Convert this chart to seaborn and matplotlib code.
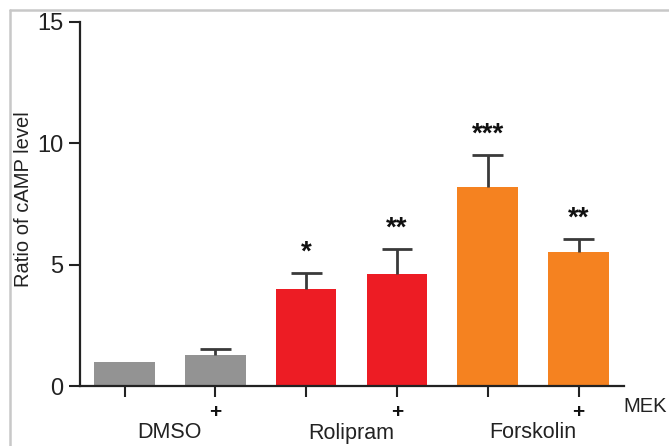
import matplotlib
matplotlib.use("Agg")
import matplotlib.pyplot as plt
from matplotlib.lines import Line2D
from matplotlib.transforms import blended_transform_factory
import seaborn as sns
import pandas as pd

# cAMP ratio per condition (mean and upper SEM)
conditions = ["DMSO", "DMSO + MEK", "Rolipram", "Rolipram + MEK", "Forskolin", "Forskolin + MEK"]
treatments = ["DMSO", "DMSO", "Rolipram", "Rolipram", "Forskolin", "Forskolin"]
mek_marks = ["", "+", "", "+", "", "+"]
camp_ratio = [1.0, 1.28, 4.01, 4.62, 8.19, 5.52]
camp_sem = [0.0, 0.24, 0.64, 1.03, 1.34, 0.55]
significance = ["", "", "*", "**", "***", "**"]
group_labels = ["DMSO", "Rolipram", "Forskolin"]
y_ticks = [0, 5, 10, 15]

palette = {"DMSO": "#939393", "Rolipram": "#ED1C24", "Forskolin": "#F58220"}

sns.set_style("ticks")
plt.rcParams["font.family"] = ["Liberation Sans", "DejaVu Sans"]

df = pd.DataFrame({"condition": conditions, "treatment": treatments, "ratio": camp_ratio})

fig = plt.figure(figsize=(6.69, 4.46), dpi=100)
ax = fig.add_axes([80 / 669, 1 - 386.2 / 446, 544 / 669, (386.2 - 21.7) / 446])

sns.barplot(data=df, x="condition", y="ratio", hue="treatment", palette=palette,
            dodge=False, width=0.667, errorbar=None, legend=False, ax=ax,
            linewidth=0, saturation=1)

# upper error bars (stem + cap) and significance stars on the drawn bars
bars = sorted(ax.patches, key=lambda p: p.get_x())
xs = [b.get_x() + b.get_width() / 2 for b in bars]
cap_half = 0.17
for x, h, e, s in zip(xs, camp_ratio, camp_sem, significance):
    if e > 0:
        ax.vlines(x, h, h + e, color="#3a3a3a", lw=2, zorder=3)
        ax.hlines(h + e, x - cap_half, x + cap_half, color="#3a3a3a", lw=2, zorder=3)
    if s:
        ax.text(x, h + e + 0.3, s, ha="center", va="bottom", fontsize=20,
                fontweight="bold", color="#111111")

ax.set_xlim(-0.49, 5.5)
ax.set_ylim(0, 15)
ax.set_yticks(y_ticks)
ax.set_xticks(range(len(conditions)))
ax.set_xticklabels([])
ax.set_xlabel("")
ax.set_ylabel("Ratio of cAMP level", fontsize=14.5, color="#222222")
ax.yaxis.set_label_coords(-0.086, 0.512)
ax.tick_params(axis="y", labelsize=17, length=8, width=1.5, color="#222222",
               labelcolor="#222222", pad=4)
ax.tick_params(axis="x", length=8, width=1.5, color="#222222")
sns.despine(ax=ax)
for side in ("left", "bottom"):
    ax.spines[side].set_linewidth(1.6)
    ax.spines[side].set_color("#222222")

# treatment annotations below the axis
tr = blended_transform_factory(ax.transData, fig.transFigure)
for x, m in zip(xs, mek_marks):
    if m:
        ax.text(x, 1 - 412 / 446, m, transform=tr, ha="center", va="center",
                fontsize=15, fontweight="bold", color="#111111")
for i, g in enumerate(group_labels):
    gx = (xs[2 * i] + xs[2 * i + 1]) / 2
    ax.text(gx, 1 - 433 / 446, g, transform=tr, ha="center", va="center",
            fontsize=15.5, color="#222222")
fig.text(623 / 669, 1 - 407 / 446, "MEK", ha="left", va="center",
         fontsize=14.5, color="#222222")

# light panel border on the left and top edges
fig.add_artist(Line2D([10 / 669, 10 / 669], [0, 1 - 9.5 / 446],
                      transform=fig.transFigure, color="#c8c8c8", lw=1.8))
fig.add_artist(Line2D([10 / 669, 1], [1 - 9.5 / 446, 1 - 9.5 / 446],
                      transform=fig.transFigure, color="#c8c8c8", lw=1.8))

fig.savefig("out.png", dpi=100)
